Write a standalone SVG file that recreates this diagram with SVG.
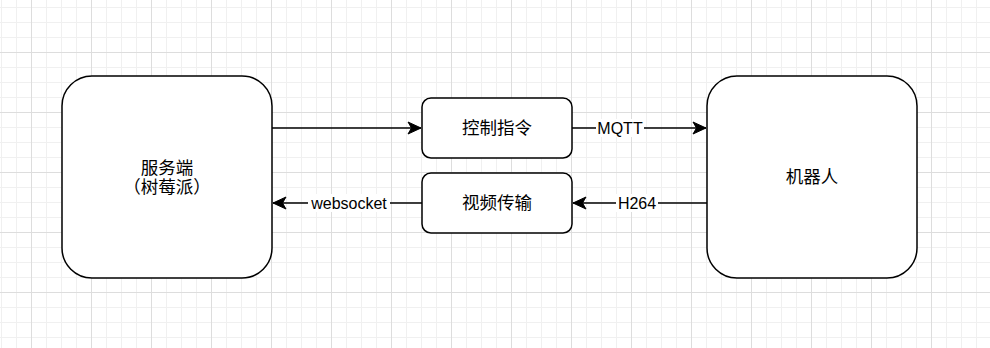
<svg xmlns="http://www.w3.org/2000/svg" width="990" height="348" viewBox="0 0 990 348">
<defs>
<pattern id="minor" x="1" y="7" width="15" height="15" patternUnits="userSpaceOnUse">
<path d="M0.5,0 V15 M0,0.5 H15" stroke="#f0f0f0" stroke-width="1" fill="none"/>
</pattern>
<pattern id="major" x="31" y="52" width="60" height="60" patternUnits="userSpaceOnUse">
<path d="M0.5,0 V60 M0,0.5 H60" stroke="#dddddd" stroke-width="1" fill="none"/>
</pattern>
<marker id="arrow" viewBox="-14 -7 15 14" refX="0" refY="0" markerWidth="15" markerHeight="14" markerUnits="userSpaceOnUse" orient="auto">
<path d="M0,0 L-13,-6 L-9.5,0 L-13,6 Z" fill="#000" stroke="#000" stroke-width="1"/>
</marker>
</defs>
<style>
.node rect { fill: #ffffff; stroke: #000000; stroke-width: 1.5; }
.node text { font-family: "Liberation Sans", "Noto Sans CJK SC", sans-serif; font-size: 17.5px; fill: #000; text-anchor: middle; dominant-baseline: central; }
.edge line { stroke: #000; stroke-width: 1.5; }
.lbl rect { fill: #fff; }
.lbl text { font-family: "Liberation Sans", "Noto Sans CJK SC", sans-serif; font-size: 16px; fill: #000; text-anchor: middle; dominant-baseline: central; }
</style>
<rect width="990" height="348" fill="#ffffff"/>
<rect width="990" height="348" fill="url(#minor)"/>
<rect width="990" height="348" fill="url(#major)"/>

<g id="edges" class="edge">
<line x1="272" y1="128" x2="421" y2="128" marker-end="url(#arrow)"/>
<line x1="572" y1="128" x2="706" y2="128" marker-end="url(#arrow)"/>
<line x1="707" y1="203" x2="573" y2="203" marker-end="url(#arrow)"/>
<line x1="422" y1="203" x2="273" y2="203" marker-end="url(#arrow)"/>
<g class="lbl">
<rect x="596" y="119" width="48" height="18"/>
<text x="620" y="128">MQTT</text>
<rect x="616" y="194" width="42" height="18"/>
<text x="637" y="203">H264</text>
<rect x="308" y="194" width="82" height="18"/>
<text x="349" y="203">websocket</text>
</g>
</g>

<g id="server" class="node">
<rect x="62" y="76" width="210" height="202" rx="30" ry="30"/>
<text x="167" y="167.5">服务端</text>
<text x="167" y="187">（树莓派）</text>
</g>
<g id="control" class="node">
<rect x="422" y="98" width="150" height="60" rx="9" ry="9"/>
<text x="497" y="128">控制指令</text>
</g>
<g id="video" class="node">
<rect x="422" y="173" width="150" height="60" rx="9" ry="9"/>
<text x="497" y="203">视频传输</text>
</g>
<g id="robot" class="node">
<rect x="707" y="76" width="210" height="202" rx="30" ry="30"/>
<text x="812" y="177">机器人</text>
</g>
</svg>
